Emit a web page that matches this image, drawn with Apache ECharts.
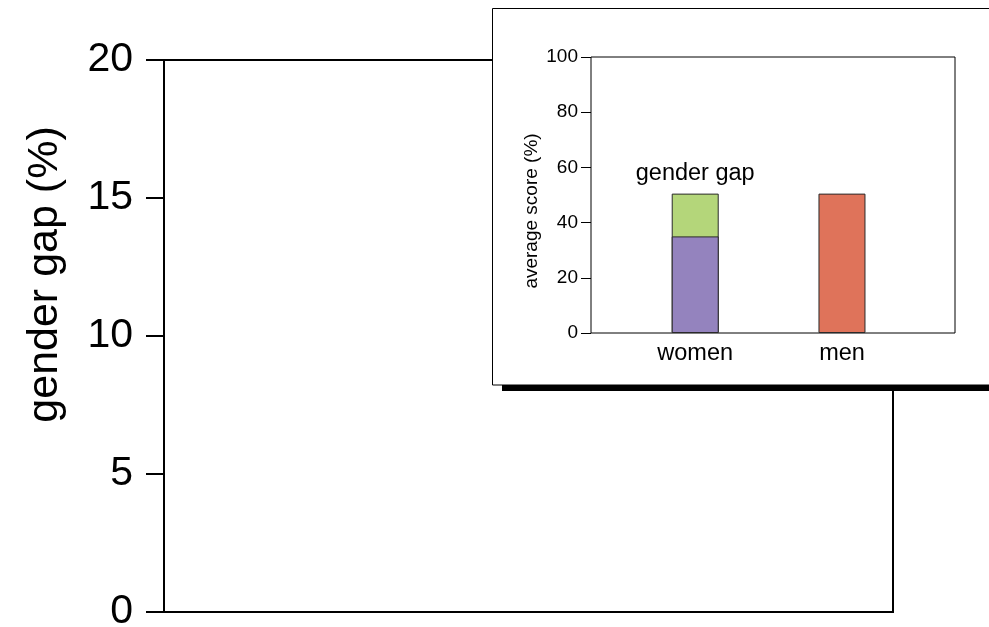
<!DOCTYPE html>
<html>
<head>
<meta charset="utf-8">
<script src="https://cdn.jsdelivr.net/npm/echarts@6/dist/echarts.min.js"></script>
<style>
html,body{margin:0;padding:0;background:#fff;}
#chart{width:989px;height:627px;}
</style>
</head>
<body>
<div id="chart"></div>
<script>
// Main chart (empty plot frame)
const mainYTicks = [0, 5, 10, 15, 20];
const mainYName = 'gender gap (%)';

// Inset chart data
const insetCategories = ['women', 'men'];
const insetCatPos = [0, 1];
const womenScore = [35];
const genderGap = [15.5];
const menScore = [50.5];
const insetYTicks = [0, 20, 40, 60, 80, 100];
const insetYName = 'average score (%)';
const gapLabel = 'gender gap';

const FONT = '"Liberation Sans", Arial, Helvetica, sans-serif';

const chart = echarts.init(document.getElementById('chart'), null, {renderer: 'canvas'});

const option = {
  animation: false,
  backgroundColor: '#fff',
  textStyle: {fontFamily: FONT},
  graphic: [
    {
      type: 'rect', z: 49,
      shape: {x: 502, y: 13, width: 560, height: 378},
      style: {fill: '#000'}
    },
    {
      type: 'rect', z: 50,
      shape: {x: 492.5, y: 8.5, width: 560, height: 376.5},
      style: {fill: '#fff', stroke: '#000', lineWidth: 1}
    }
  ],
  grid: [
    {left: 164, top: 60, width: 729, height: 552, show: true, borderColor: '#000', borderWidth: 2,
      backgroundColor: 'transparent', z: 0, outerBoundsMode: 'none', containLabel: false},
    {left: 591, top: 57, width: 364, height: 276, show: true, borderColor: '#000', borderWidth: 1,
      backgroundColor: 'transparent', z: 60, outerBoundsMode: 'none', containLabel: false}
  ],
  xAxis: [
    {gridIndex: 0, type: 'value', min: 0, max: 1, show: false, z: 0},
    {
      gridIndex: 1, type: 'value', min: -0.71, max: 1.77, z: 61,
      axisLine: {show: false, onZero: false},
      axisTick: {show: false},
      splitLine: {show: false},
      axisLabel: {
        customValues: insetCatPos,
        formatter: function (v) { return insetCategories[insetCatPos.indexOf(Math.round(v))] || ''; },
        color: '#000', fontSize: 23.5, fontFamily: FONT, margin: 9
      }
    }
  ],
  yAxis: [
    {
      gridIndex: 0, type: 'value', min: 0, max: 20, interval: 5, z: 0,
      axisLine: {show: false, onZero: false},
      axisTick: {show: true, inside: false, length: 18, lineStyle: {color: '#000', width: 2}},
      splitLine: {show: false},
      axisLabel: {color: '#000', fontSize: 41, fontFamily: FONT, margin: 31,
        formatter: function (v) { return mainYTicks.indexOf(v) >= 0 ? String(v) : ''; }},
      name: mainYName,
      nameLocation: 'middle',
      nameGap: 97,
      nameRotate: 90,
      nameTextStyle: {color: '#000', fontSize: 43, fontFamily: FONT, padding: [0, 0, 0, 123]}
    },
    {
      gridIndex: 1, type: 'value', min: 0, max: 100, interval: 20, z: 61,
      axisLine: {show: false, onZero: false},
      axisTick: {show: true, inside: false, length: 10, lineStyle: {color: '#000', width: 1}},
      splitLine: {show: false},
      axisLabel: {color: '#000', fontSize: 19, fontFamily: FONT, margin: 13,
        formatter: function (v) { return insetYTicks.indexOf(v) >= 0 ? String(v) : ''; }},
      name: insetYName,
      nameLocation: 'middle',
      nameGap: 50,
      nameRotate: 90,
      nameTextStyle: {color: '#000', fontSize: 19, fontFamily: FONT, padding: [0, 32, 0, 0]}
    }
  ],
  series: [
    {
      // total women bar (women score + gender gap), drawn underneath
      name: 'gender gap', type: 'bar', xAxisIndex: 1, yAxisIndex: 1, z: 70,
      barWidth: 47, barGap: '-100%',
      data: insetCatPos.slice(0, 1).map((p, i) => [p, womenScore[i] + genderGap[i]]),
      itemStyle: {color: '#B4D67A', borderColor: '#2a2a2a', borderWidth: 1},
      label: {show: true, position: 'top', distance: 8, formatter: gapLabel, color: '#000', fontSize: 23.5, fontFamily: FONT}
    },
    {
      name: 'women', type: 'bar', xAxisIndex: 1, yAxisIndex: 1, z: 71,
      barWidth: 47, barGap: '-100%',
      data: insetCatPos.slice(0, 1).map((p, i) => [p, womenScore[i]]),
      itemStyle: {color: '#9483BE', borderColor: '#2a2a2a', borderWidth: 1}
    },
    {
      name: 'men', type: 'bar', xAxisIndex: 1, yAxisIndex: 1, z: 70,
      barWidth: 47, barGap: '-100%',
      data: insetCatPos.slice(1, 2).map((p, i) => [p, menScore[i]]),
      itemStyle: {color: '#DF735A', borderColor: '#2a2a2a', borderWidth: 1}
    }
  ]
};

chart.setOption(option);
</script>
</body>
</html>
